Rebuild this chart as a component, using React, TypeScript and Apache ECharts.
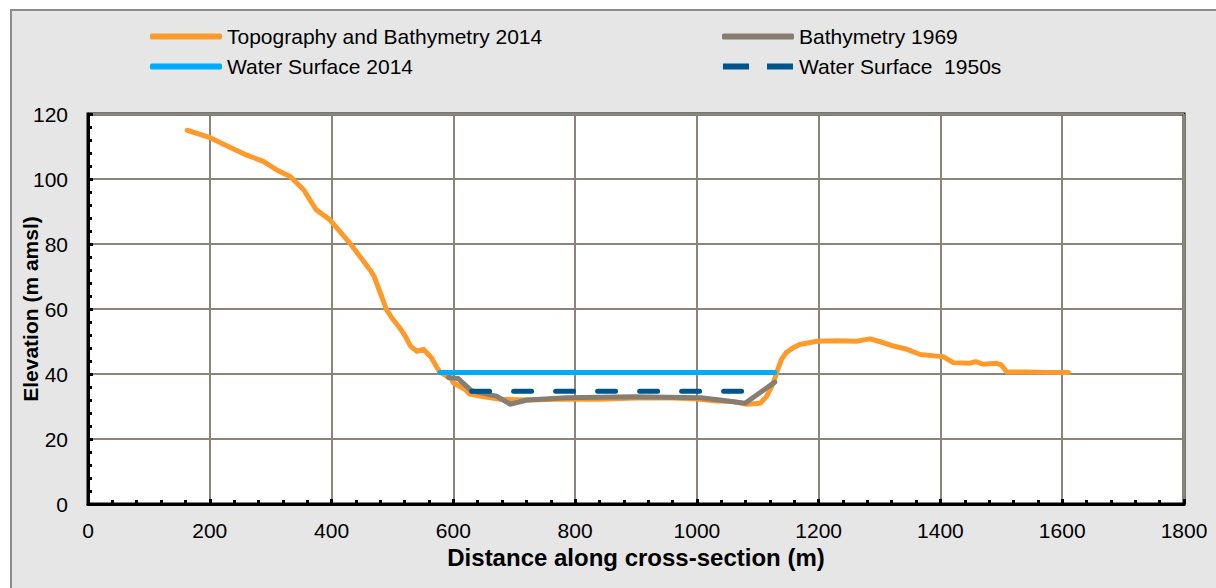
import React, { useEffect, useRef } from "react";
import * as echarts from "echarts";

const topo2014: [number, number][] = [
  [163, 115], [198, 112.9], [233, 109.8], [260, 107.4], [288, 105.4], [310, 102.8],
  [332, 100.8], [354, 96.7], [375, 90.5], [397, 87.5], [430, 80.3], [463, 72.1],
  [470, 70], [480, 65], [490, 59.9], [500, 57], [510, 54.7], [520, 52], [530, 48.5],
  [540, 47], [551, 47.6], [564, 45], [575, 41.4], [578, 40.6], [597, 38.4], [600, 37.3],
  [619, 35.3], [627, 33.8], [650, 33], [677, 32.2], [728, 32], [780, 32.3], [841, 32.2],
  [900, 32.6], [951, 32.7], [1000, 32.3], [1032, 31.7], [1060, 31.5], [1082, 30.7],
  [1104, 31], [1115, 33.2], [1125, 37], [1131, 40.4], [1139, 44.5], [1147, 46.6],
  [1158, 48.1], [1169, 49.1], [1197, 50.1], [1230, 50.2], [1262, 50.1], [1284, 50.8],
  [1300, 50], [1323, 48.6], [1345, 47.6], [1367, 46], [1394, 45.5], [1405, 45.3],
  [1421, 43.5], [1448, 43.3], [1458, 43.8], [1470, 43], [1492, 43.3], [1500, 42.8],
  [1509, 40.6], [1540, 40.6], [1580, 40.5], [1610, 40.5],
];

const bathy1969: [number, number][] = [
  [592, 38.9], [608, 38.6], [630, 34.8], [671, 33.2], [693, 30.7], [721, 32],
  [786, 32.7], [896, 33], [1006, 32.7], [1038, 32], [1079, 31], [1104, 34.3], [1128, 37.5],
];

const water2014: [number, number][] = [[578, 40.5], [1128, 40.5]];
const water1950s: [number, number][] = [[630, 34.7], [1082, 34.7]];

const xTicks = { min: 0, max: 1800, interval: 200 };
const yTicks = { min: 0, max: 120, interval: 20 };

const FONT = "'Liberation Sans', Arial, sans-serif";
const DASH_ICON = "path://M0,0H26V6H0Z M44,0H70V6H44Z";

export default function App() {
  const ref = useRef<HTMLDivElement>(null);
  useEffect(() => {
    document.body.style.margin = "0";
    const chart = echarts.init(ref.current!, null, { renderer: "svg" });
    const axisCommon = {
      type: "value" as const,
      axisLine: { show: true, onZero: false, lineStyle: { color: "#000", width: 3 } },
      axisTick: { show: true, inside: true, length: 5, lineStyle: { color: "#000", width: 3 } },
      minorTick: { show: true, splitNumber: 5, length: 4, lineStyle: { color: "#000", width: 3 } },
      splitLine: { show: true, lineStyle: { color: "#8a847b", width: 2 } },
      axisLabel: { color: "#000", fontSize: 21, fontFamily: FONT, formatter: (v: number) => String(v) },
      nameMoveOverlap: false,
    };
    const legendText = { color: "#000", fontSize: 21, fontFamily: FONT };
    chart.setOption({
      animation: false,
      backgroundColor: "#fff",
      textStyle: { fontFamily: FONT },
      graphic: [
        {
          type: "rect",
          z: -10,
          silent: true,
          shape: { x: 11, y: 10, width: 1220, height: 600 },
          style: { fill: "#e6e6e6", stroke: "#8c8c8c", lineWidth: 2 },
        },
      ],
      grid: {
        left: 88, top: 114, width: 1096, height: 390,
        show: true, backgroundColor: "#fff", borderColor: "#000", borderWidth: 3,
        containLabel: false, outerBoundsMode: "none",
      },
      legend: [
        {
          orient: "vertical", left: 145, top: 21, itemWidth: 72, itemHeight: 6,
          itemGap: 9,
          data: [
            { name: "Topography and Bathymetry 2014", icon: "roundRect" },
            { name: "Water Surface 2014", icon: "roundRect" },
          ],
          textStyle: legendText,
        },
        {
          orient: "vertical", left: 717, top: 21, itemWidth: 72, itemHeight: 6,
          itemGap: 9,
          data: [
            { name: "Bathymetry 1969", icon: "roundRect" },
            { name: "Water Surface  1950s", icon: DASH_ICON },
          ],
          textStyle: legendText,
        },
      ],
      xAxis: {
        ...axisCommon,
        ...xTicks,
        name: "Distance along cross-section (m)",
        nameLocation: "middle",
        nameGap: 41,
        nameTextStyle: { color: "#000", fontSize: 24, fontWeight: "bold", fontFamily: FONT },
        axisLabel: { ...axisCommon.axisLabel, margin: 16 },
      },
      yAxis: {
        ...axisCommon,
        ...yTicks,
        name: "Elevation (m amsl)",
        nameLocation: "middle",
        nameGap: 47,
        nameTextStyle: { color: "#000", fontSize: 21, fontWeight: "bold", fontFamily: FONT },
        axisLabel: { ...axisCommon.axisLabel, margin: 20 },
      },
      series: [
        {
          name: "Topography and Bathymetry 2014", type: "line", data: topo2014,
          symbol: "none", lineStyle: { color: "#ff9a2a", width: 5, cap: "round", join: "round" },
          itemStyle: { color: "#ff9a2a" }, z: 2,
        },
        {
          name: "Bathymetry 1969", type: "line", data: bathy1969,
          symbol: "none", lineStyle: { color: "#877d71", width: 5, cap: "round", join: "round" },
          itemStyle: { color: "#877d71" }, z: 3,
        },
        {
          name: "Water Surface 2014", type: "line", data: water2014,
          symbol: "none", lineStyle: { color: "#00aaff", width: 5, cap: "round" },
          itemStyle: { color: "#00aaff" }, z: 4,
        },
        {
          name: "Water Surface  1950s", type: "line", data: water1950s,
          symbol: "none", lineStyle: { color: "#00558a", width: 5, cap: "round", type: [18, 24] },
          itemStyle: { color: "#00558a" }, z: 5,
        },
      ],
    });
    return () => chart.dispose();
  }, []);
  return <div ref={ref} style={{ width: 1216, height: 588 }} />;
}
